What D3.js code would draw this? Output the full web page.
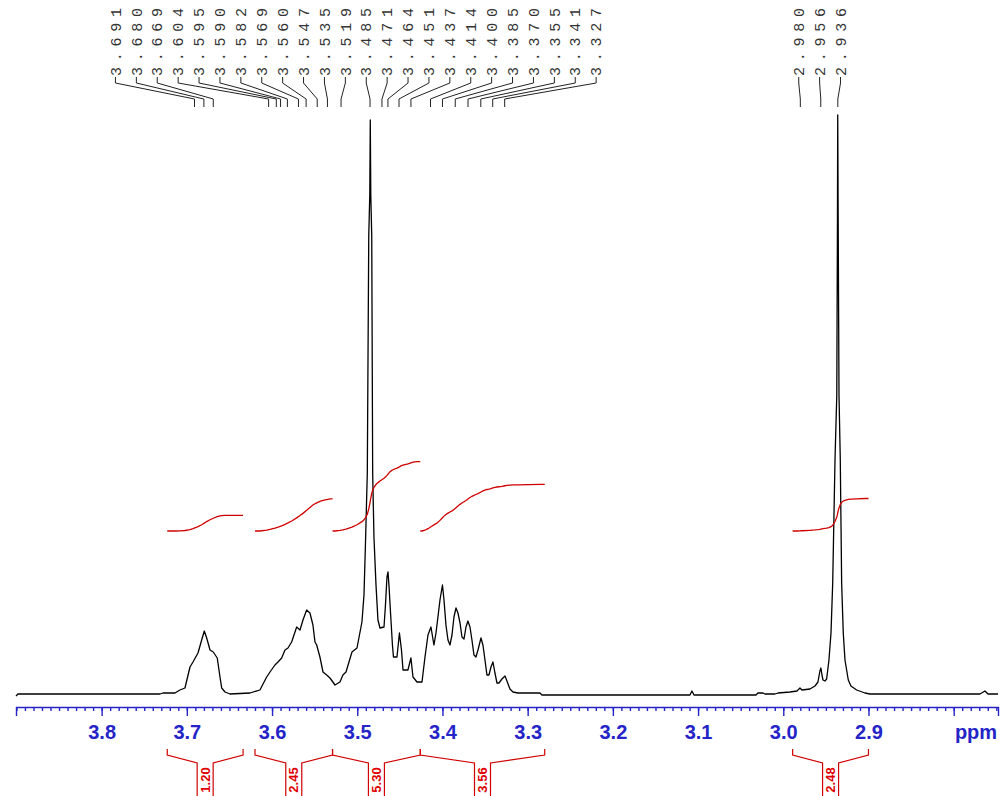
<!DOCTYPE html>
<html>
<head>
<meta charset="utf-8">
<script src="https://cdn.jsdelivr.net/npm/d3@7"></script>
<style>
  html, body { margin: 0; padding: 0; background: #fff; }
  svg { display: block; }
  .peak-label { font-family: "Liberation Mono", "DejaVu Sans Mono", monospace; font-size: 15px; fill: #333; }
  .int-label { font-family: "Liberation Sans", Arial, sans-serif; font-size: 13px; font-weight: bold; fill: #e00000; }
  .axis text { font-family: "Liberation Sans", Arial, sans-serif; font-size: 20px; font-weight: bold; fill: #2424c8; }
  .axis path, .axis line { stroke: #2424c8; stroke-width: 1.4; }
</style>
</head>
<body>
<div id="mount"></div>
<script>
var WIDTH = 1000;
var HEIGHT = 796;

// spectrum trace: chemical shift (ppm) and intensity (arbitrary units)
var specPpm = [
  3.9005, 3.8982, 3.7315, 3.7280, 3.7139, 3.7081, 3.7022, 3.6963, 3.6928, 3.6869,
  3.6826, 3.6795, 3.6767, 3.6728, 3.6690, 3.6643, 3.6611, 3.6591, 3.6552, 3.6494,
  3.6259, 3.6142, 3.6063, 3.6024, 3.5966, 3.5930, 3.5887, 3.5848, 3.5813, 3.5770,
  3.5711, 3.5672, 3.5637, 3.5594, 3.5555, 3.5520, 3.5496, 3.5476, 3.5438, 3.5402,
  3.5359, 3.5320, 3.5261, 3.5203, 3.5168, 3.5132, 3.5062, 3.5003, 3.4945, 3.4921,
  3.4904, 3.4882, 3.4865, 3.4853, 3.4847, 3.4841, 3.4830, 3.4819, 3.4804, 3.4780,
  3.4757, 3.4733, 3.4686, 3.4669, 3.4651, 3.4639, 3.4628, 3.4610, 3.4587, 3.4575,
  3.4534, 3.4505, 3.4481, 3.4463, 3.4405, 3.4370, 3.4346, 3.4299, 3.4240, 3.4205,
  3.4170, 3.4135, 3.4100, 3.4076, 3.4053, 3.4029, 3.4000, 3.3982, 3.3959, 3.3935,
  3.3912, 3.3888, 3.3865, 3.3841, 3.3818, 3.3794, 3.3771, 3.3747, 3.3724, 3.3701,
  3.3677, 3.3654, 3.3630, 3.3607, 3.3583, 3.3548, 3.3525, 3.3501, 3.3478, 3.3454,
  3.3431, 3.3407, 3.3384, 3.3360, 3.3337, 3.3302, 3.3266, 3.3243, 3.3208, 3.3172,
  3.3114, 3.2856, 3.2832, 3.1095, 3.1072, 3.1048, 3.0321, 3.0297, 3.0238, 3.0215,
  3.0098, 3.0062, 2.9922, 2.9839, 2.9804, 2.9781, 2.9687, 2.9628, 2.9593, 2.9570,
  2.9558, 2.9546, 2.9534, 2.9511, 2.9491, 2.9464, 2.9440, 2.9420, 2.9393, 2.9372,
  2.9364, 2.9361, 2.9356, 2.9346, 2.9331, 2.9315, 2.9296, 2.9276, 2.9237, 2.9206,
  2.9139, 2.9041, 2.8983, 2.7692, 2.7633, 2.7598, 2.7480
];
var specInt = [
  -1, 1, 1, 2, 2, 5, 7, 28, 33, 42,
  55, 64, 57, 45, 43, 37, 18, 7, 3, 1,
  2, 5, 18, 23, 30, 33, 37, 45, 47, 53,
  68, 65, 75, 85, 82, 70, 53, 50, 38, 23,
  20, 17, 10, 13, 20, 23, 43, 47, 73, 100,
  150, 222, 459, 500, 575, 500, 459, 222, 158, 110,
  75, 67, 68, 90, 118, 123, 110, 83, 50, 38,
  38, 62, 45, 25, 25, 37, 18, 13, 13, 38,
  60, 68, 50, 62, 78, 95, 110, 95, 70, 55,
  50, 60, 78, 87, 82, 72, 58, 56, 68, 74,
  68, 55, 40, 38, 45, 57, 50, 35, 20, 20,
  28, 33, 22, 12, 12, 16, 19, 14, 6, 3,
  2, 2, 0, 0, 4, 0, 0, 2, 2, 1,
  1, 2, 3, 4, 7, 5, 6, 9, 13, 24,
  27, 20, 15, 14, 16, 35, 62, 112, 235, 300,
  480, 580, 480, 300, 235, 112, 62, 35, 15, 9,
  5, 2, 1, 1, 4, 1, 1
];

// picked peaks, one array per multiplet group
var peaksA = [3.691, 3.680, 3.669, 3.604, 3.595, 3.590, 3.582, 3.569, 3.560, 3.547,
  3.535, 3.519, 3.485, 3.471, 3.464, 3.451, 3.437, 3.414, 3.400, 3.385,
  3.370, 3.355, 3.341, 3.327];
var peaksB = [2.980, 2.956, 2.936];

// integration regions
var intFrom = [3.723, 3.620, 3.529, 3.426, 2.989];
var intTo = [3.634, 3.529, 3.426, 3.280, 2.900];
var intValue = [1.20, 2.45, 5.30, 3.56, 2.48];

var majorTicks = [3.8, 3.7, 3.6, 3.5, 3.4, 3.3, 3.2, 3.1, 3.0, 2.9, 2.8];

document.addEventListener('DOMContentLoaded', function () {
  var x = d3.scaleLinear().domain([3.9005, 2.748]).range([16, 998]);
  var y = d3.scaleLinear().domain([0, 580]).range([695, 115]);
  var intY = d3.scaleLinear().domain([0, 10]).range([531, 400]);
  var red = '#d00000';

  var $svg = d3.select('#mount')
  .append('svg')
  .attr('width', WIDTH)
  .attr('height', HEIGHT);

  $svg.append('rect')
  .attr('width', WIDTH)
  .attr('height', HEIGHT)
  .attr('fill', '#fff');

  // spectrum
  var spec = specPpm.map(function (p, i) { return [p, specInt[i]]; });
  var line = d3.line()
  .x(function (d) { return x(d[0]); })
  .y(function (d) { return y(d[1]); });

  $svg.append('path')
  .datum(spec)
  .attr('d', line)
  .attr('fill', 'none')
  .attr('stroke', '#000')
  .attr('stroke-width', 1.3)
  .attr('stroke-linejoin', 'round');

  // integral curves: running area of the trace, scaled to the integral value
  function integral(from, to, value) {
    var pts = [[from, 0]];
    var sum = 0;
    var prev = null;
    spec.forEach(function (d) {
      if (d[0] > from || d[0] < to) return;
      if (prev) sum += (prev[0] - d[0]) * (prev[1] + d[1]) / 2;
      pts.push([d[0], sum]);
      prev = d;
    });
    pts.push([to, sum]);
    return pts.map(function (d) { return [d[0], d[1] / sum * value]; });
  }

  var intLine = d3.line()
  .x(function (d) { return x(d[0]); })
  .y(function (d) { return intY(d[1]); });

  intValue.forEach(function (v, i) {
    $svg.append('path')
    .datum(integral(intFrom[i], intTo[i], v))
    .attr('d', intLine)
    .attr('fill', 'none')
    .attr('stroke', red)
    .attr('stroke-width', 1.3);
  });

  // axis
  var gMinor = $svg.append('g')
  .attr('class', 'axis')
  .attr('transform', 'translate(0,707)')
  .call(d3.axisBottom(x)
    .tickValues(d3.range(275, 391).map(function (v) { return v / 100; }))
    .tickSize(4)
    .tickSizeOuter(0)
    .tickFormat(''));
  gMinor.select('.domain').remove();

  $svg.append('g')
  .attr('class', 'axis')
  .attr('transform', 'translate(0,707)')
  .call(d3.axisBottom(x)
    .tickValues(majorTicks)
    .tickSize(9)
    .tickSizeOuter(9)
    .tickPadding(9)
    .tickFormat(function (d) { return d === 2.8 ? '' : d3.format('.1f')(d); }));

  $svg.append('text')
  .attr('x', 976)
  .attr('y', 739)
  .attr('text-anchor', 'middle')
  .style('font-family', '"Liberation Sans", Arial, sans-serif')
  .style('font-size', '20px')
  .style('font-weight', 'bold')
  .style('fill', '#2424c8')
  .text('ppm');

  // integration brackets below the axis
  intValue.forEach(function (v, i) {
    var xl = x(intFrom[i]);
    var xr = x(intTo[i]);
    var c = (xl + xr) / 2;
    var p = d3.path();
    p.moveTo(xl, 749); p.lineTo(xl, 755); p.lineTo(c - 8, 763); p.lineTo(c - 8, 800);
    p.moveTo(xr, 749); p.lineTo(xr, 755); p.lineTo(c + 8, 763); p.lineTo(c + 8, 800);
    $svg.append('path')
    .attr('d', p.toString())
    .attr('fill', 'none')
    .attr('stroke', red)
    .attr('stroke-width', 1.2);

    $svg.append('text')
    .attr('class', 'int-label')
    .attr('transform', 'translate(' + c + ',780) rotate(-90)')
    .attr('text-anchor', 'middle')
    .attr('dy', '0.35em')
    .text(v.toFixed(2));
  });

  // peak labels with leader lines
  var spacing = 20.9;
  [peaksA, peaksB].forEach(function (group) {
    var mean = d3.mean(group, function (p) { return x(p); });
    var start = mean - spacing * (group.length - 1) / 2;
    group.forEach(function (p, i) {
      var lx = start + i * spacing;
      var px = x(p);
      $svg.append('polyline')
      .attr('points', [[lx, 77], [lx, 83], [px, 99], [px, 107]].join(' '))
      .attr('fill', 'none')
      .attr('stroke', '#222')
      .attr('stroke-width', 1);

      $svg.append('text')
      .attr('class', 'peak-label')
      .attr('transform', 'translate(' + lx + ',76) rotate(-90)')
      .attr('dy', '0.35em')
      .attr('textLength', 68)
      .attr('lengthAdjust', 'spacing')
      .text(p.toFixed(3));
    });
  });
});
</script>
</body>
</html>
